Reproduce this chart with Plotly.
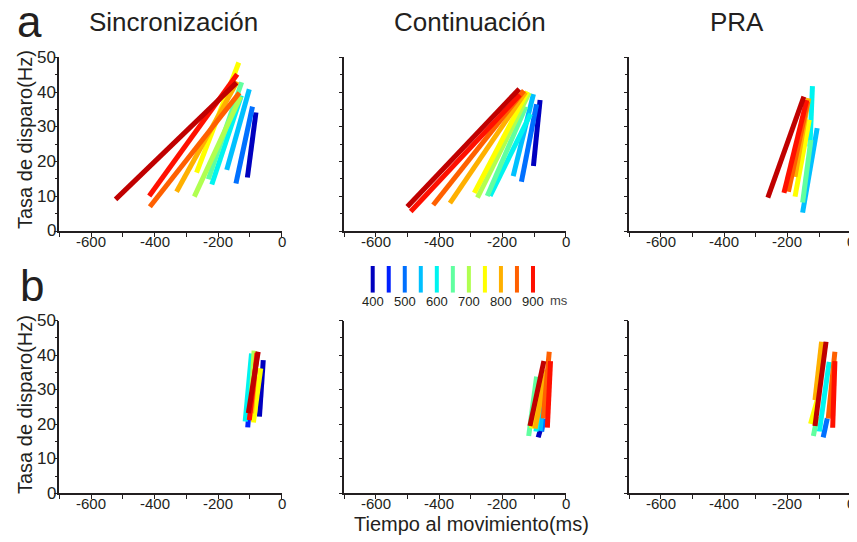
import plotly.graph_objects as go

# ---------------- data ----------------
durations = [400, 450, 500, 550, 600, 650, 700, 750, 800, 850, 900, 1000]
colors = ["#0000bf", "#0020ff", "#0070ff", "#00c0ff", "#00f4f0", "#60ffa0",
          "#b0ff50", "#ffff00", "#ffb000", "#ff6000", "#ff1000", "#c00000"]
legend_durations = [400, 450, 500, 550, 600, 650, 700, 750, 800, 850, 900]
legend_labels = [400, 500, 600, 700, 800, 900]

titles = ["Sincronización", "Continuación", "PRA"]

# each panel: start (x0, y0) and end (x1, y1) of the regression segment per duration
# --- row a ---
a_sinc_x0 = [-108, None, -144, -173, -220, -231, -275, -268, -331, -415, -417, -523]
a_sinc_y0 = [15.4, None, 13.7, 17.6, 13.4, 14.9, 9.9, 16.8, 11.3, 7.0, 10.1, 9.1]
a_sinc_x1 = [-81, None, -92, -102, -127, -126, -129, -135, -140, -133, -140, -142]
a_sinc_y1 = [34.1, None, 35.8, 40.8, 39.0, 42.8, 38.7, 48.5, 43.0, 39.8, 45.1, 42.7]

a_cont_x0 = [-102, None, -140, -166, -239, -248, -279, -289, -366, -419, -490, -501]
a_cont_y0 = [18.7, None, 14.2, 15.8, 10.1, 10.1, 9.6, 11.0, 8.0, 7.5, 5.6, 7.0]
a_cont_x1 = [-81, None, -92, -102, -111, -126, -115, -121, -127, -132, -145, -147]
a_cont_y1 = [37.7, None, 36.5, 39.4, 33.7, 35.8, 39.8, 40.1, 40.0, 40.4, 39.2, 40.9]

a_pra_x0 = [None, None, None, -152, -129, -152, None, -176, -176, -197, -211, -262]
a_pra_y0 = [None, None, None, 5.3, 24.3, 8.2, None, 9.9, 15.6, 11.3, 11.0, 9.6]
a_pra_x1 = [None, None, None, -106, -121, -126, None, -131, -133, -136, -139, -148]
a_pra_y1 = [None, None, None, 29.6, 41.7, 26.2, None, 32.0, 38.2, 37.2, 37.7, 38.7]

# --- row b ---
b_sinc_x0 = [-70, -107, None, None, -115, None, -98, -89, -95, None, -102, -105]
b_sinc_y0 = [22.2, 19.1, None, None, 20.8, None, 24.1, 20.5, 23.2, None, 21.2, 23.2]
b_sinc_x1 = [-58, -91, None, None, -95, None, -87, -66, -79, None, -77, -74]
b_sinc_y1 = [38.6, 36.7, None, None, 40.5, None, 41.3, 36.2, 40.5, None, 40.7, 41.0]

b_cont_x0 = [-87, None, -76, -81, -94, -117, None, -108, -97, -71, -58, -113]
b_cont_y0 = [16.2, None, 17.9, 18.1, 17.9, 16.6, None, 18.8, 18.8, 21.7, 19.0, 19.5]
b_cont_x1 = [-71, None, -69, -71, -76, -92, None, -71, -60, -52, -48, -69]
b_cont_y1 = [21.2, None, 21.7, 27.0, 30.9, 33.8, None, 34.3, 35.7, 41.0, 38.3, 38.3]

b_pra_x0 = [None, None, -87, None, -99, -118, None, -127, -113, -71, -57, -113]
b_pra_y0 = [None, None, 16.2, None, 17.9, 16.6, None, 20.1, 27.0, 21.7, 19.0, 19.5]
b_pra_x1 = [None, None, -74, None, -68, -106, None, -106, -92, -50, -50, -78]
b_pra_y1 = [None, None, 21.7, None, 38.1, 22.2, None, 27.0, 43.9, 41.0, 38.3, 43.9]

x_tick_vals = [-600, -400, -200, 0]
x_tick_text = ["-600", "-400", "-200", "0"]
x_minor_vals = [-700, -500, -300, -100]
y_tick_vals = [0, 10, 20, 30, 40, 50]

panels = [
    (a_sinc_x0, a_sinc_y0, a_sinc_x1, a_sinc_y1),
    (a_cont_x0, a_cont_y0, a_cont_x1, a_cont_y1),
    (a_pra_x0, a_pra_y0, a_pra_x1, a_pra_y1),
    (b_sinc_x0, b_sinc_y0, b_sinc_x1, b_sinc_y1),
    (b_cont_x0, b_cont_y0, b_cont_x1, b_cont_y1),
    (b_pra_x0, b_pra_y0, b_pra_x1, b_pra_y1),
]

# ---------------- figure ----------------
OFF = 8  # page body margin
W, H = 857 - OFF, 542 - OFF
INK = "#231f20"
FONT = "Liberation Sans, Arial, sans-serif"

def px(x):
    return (x - OFF) / W

def py(y):
    return 1 - (y - OFF) / H

col_px = [(59.3, 281.7), (344.3, 565.7), (629.3, 850.7)]
row_px = [(57.3, 231.0), (320.7, 493.3)]
col_dom = [[px(a), px(b)] for a, b in col_px]
row_dom = [[py(b), py(a)] for a, b in row_px]

fig = go.Figure()
layout = dict(
    template="none",
    width=W, height=H,
    margin=dict(l=0, r=0, t=0, b=0, autoexpand=False),
    paper_bgcolor="white", plot_bgcolor="white",
    showlegend=False,
    font=dict(family=FONT, color=INK),
)
annotations = []

for i, (x0s, y0s, x1s, y1s) in enumerate(panels):
    n = i + 1
    xa = "x" if n == 1 else f"x{n}"
    ya = "y" if n == 1 else f"y{n}"
    for k in range(len(durations)):
        if x0s[k] is None:
            continue
        fig.add_trace(go.Scatter(
            x=[x0s[k], x1s[k]], y=[y0s[k], y1s[k]], mode="lines",
            line=dict(color=colors[k], width=5),
            xaxis=xa, yaxis=ya, hoverinfo="skip", showlegend=False,
        ))
    row, col = divmod(i, 3)
    xkey = "xaxis" if n == 1 else f"xaxis{n}"
    ykey = "yaxis" if n == 1 else f"yaxis{n}"
    layout[xkey] = dict(
        domain=col_dom[col], anchor=ya, range=[-700, 0], automargin=False,
        showline=True, linecolor=INK, linewidth=1.5,
        ticks="outside", ticklen=4, tickwidth=1.2, tickcolor=INK,
        tickmode="array", tickvals=x_tick_vals, showticklabels=False,
        minor=dict(ticks="outside", tickmode="array", tickvals=x_minor_vals,
                   ticklen=4, tickwidth=1.2, tickcolor=INK),
        showgrid=False, zeroline=False, fixedrange=True,
    )
    layout[ykey] = dict(
        domain=row_dom[row], anchor=xa, range=[0, 50], automargin=False,
        showline=True, linecolor=INK, linewidth=1.5,
        ticks="outside", ticklen=4, tickwidth=1.2, tickcolor=INK,
        tickmode="array", tickvals=y_tick_vals, showticklabels=False,
        minor=dict(ticks="outside", dtick=5, tick0=0, ticklen=3,
                   tickwidth=1.2, tickcolor=INK),
        showgrid=False, zeroline=False, fixedrange=True,
    )
    # x tick labels (placed close to the axis, as in the reference)
    axis_y = row_px[row][1]
    for v, t in zip(x_tick_vals, x_tick_text):
        annotations.append(dict(x=v, xref=xa, y=py(axis_y + 10.5), yref="paper",
                                text=t, showarrow=False, xanchor="center",
                                yanchor="middle",
                                font=dict(size=15, color=INK, family=FONT)))
    # y tick labels only on the first column
    if col == 0:
        for v in y_tick_vals:
            annotations.append(dict(x=px(57.5), xref="paper", y=v, yref=ya,
                                    text=str(v), showarrow=False,
                                    xanchor="right", yanchor="middle",
                                    font=dict(size=17, color=INK, family=FONT)))

# colour key (own hidden axes)
for d, c in zip(durations, colors):
    if d not in legend_durations:
        continue
    fig.add_trace(go.Scatter(
        x=[d, d], y=[0, 1], mode="lines", line=dict(color=c, width=4),
        xaxis="x7", yaxis="y7", hoverinfo="skip", showlegend=False,
    ))
layout["xaxis7"] = dict(domain=[px(366.3), px(539.4)], anchor="y7",
                        range=[380, 920], visible=False, fixedrange=True)
layout["yaxis7"] = dict(domain=[py(292.7), py(266)], anchor="x7",
                        range=[0, 1], visible=False, fixedrange=True)

for v in legend_labels:
    annotations.append(dict(x=v, xref="x7", y=py(301), yref="paper",
                            text=str(v), showarrow=False, xanchor="center",
                            yanchor="middle", font=dict(size=13, color=INK)))
annotations.append(dict(x=px(558.5), y=py(300), xref="paper", yref="paper",
                        text="ms", showarrow=False, xanchor="center",
                        yanchor="middle", font=dict(size=13, color="#444444")))

title_x = [173, 470, 736.5]
for t, tx in zip(titles, title_x):
    annotations.append(dict(x=px(tx), y=py(22), xref="paper", yref="paper",
                            text=t, showarrow=False, xanchor="center",
                            yanchor="middle", font=dict(size=26, color=INK)))

annotations.append(dict(x=px(29), y=py(22), xref="paper", yref="paper",
                        text="a", showarrow=False, xanchor="center",
                        yanchor="middle", font=dict(size=44, color=INK)))
annotations.append(dict(x=px(31.5), y=py(285), xref="paper", yref="paper",
                        text="b", showarrow=False, xanchor="center",
                        yanchor="middle", font=dict(size=44, color=INK)))

annotations.append(dict(x=px(471.5), y=py(524), xref="paper", yref="paper",
                        text="Tiempo al movimiento(ms)", showarrow=False,
                        xanchor="center", yanchor="middle",
                        font=dict(size=20, color=INK)))
for yc in [140, 405]:
    annotations.append(dict(x=px(25), y=py(yc), xref="paper", yref="paper",
                            text="Tasa de disparo(Hz)", showarrow=False,
                            textangle=-90, xanchor="center", yanchor="middle",
                            font=dict(size=20, color=INK)))

layout["annotations"] = annotations
fig.update_layout(**layout)
fig.write_html("out.html")
